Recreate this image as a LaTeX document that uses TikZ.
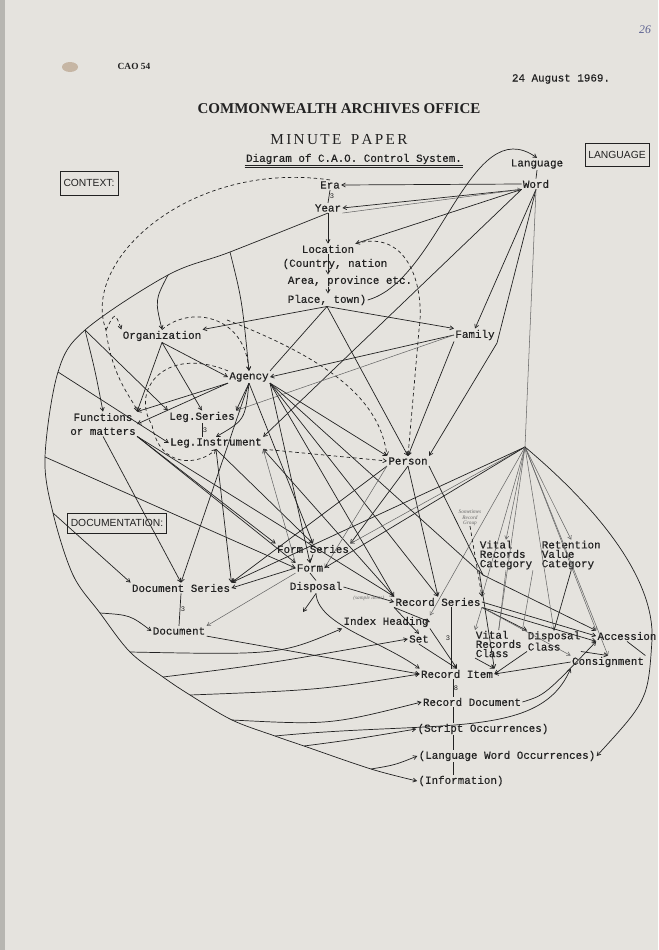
\documentclass[tikz,border=0pt]{standalone}
\usepackage{fontspec}
\setmainfont{Liberation Serif}
\setsansfont{Liberation Sans}
\setmonofont{Liberation Mono}
\newfontfamily\typed{Liberation Mono}[FakeBold=0.35]
\usetikzlibrary{arrows.meta,calc}

\definecolor{paper}{HTML}{E5E3DE}
\definecolor{ink}{HTML}{222222}
\definecolor{pencil}{HTML}{666666}
\definecolor{biro}{HTML}{5B6190}

\newcommand{\tw}{\fontsize{9.3}{8}\selectfont\typed}
\newcommand{\twat}[1]{\fontsize{9.3}{#1}\selectfont\typed}

\tikzset{
  item/.style={font=\tw,text=ink,inner sep=1pt},
  stack/.style={item,align=left,anchor=west,inner sep=0.5pt},
  heading/.style={draw=ink,line width=0.6pt,text=ink,inner sep=2pt,
    font=\fontsize{8.8}{9}\selectfont\sffamily},
  crow/.style={font=\fontsize{6}{6}\selectfont\ttfamily,text=ink,inner sep=0.5pt},
  jot/.style={font=\fontsize{4.5}{4.8}\selectfont\itshape,text=pencil,inner sep=0pt,align=center},
  link/.style={draw=ink,line width=0.6pt},
  faint/.style={draw=pencil,line width=0.45pt},
  dotlink/.style={draw=ink,line width=0.6pt,dash pattern=on 3pt off 2.5pt},
}

\begin{document}
\begin{tikzpicture}[x=0.03cm,y=-0.03cm,>={Straight Barb[length=3pt,width=3.5pt]}]
\fill[paper] (0,0) rectangle (658,950);
\useasboundingbox (0,0) rectangle (658,950);
\fill[paper!80!black] (0,0) rectangle (5,950);
\fill[brown!25!paper!90!black] (70,67) ellipse [x radius=8,y radius=5];

% header
\node[font=\fontsize{8}{8}\selectfont\bfseries,text=ink] (cao) at (134,66) {CAO 54};
\node[item] (date) at (561,79) {24 August 1969.};
\node[font=\fontsize{12.8}{13}\selectfont\bfseries,text=ink] (office) at (339,109) {COMMONWEALTH ARCHIVES OFFICE};
\node[font=\fontsize{13}{13}\selectfont,text=ink] (minute) at (339,140)
  {M\kern2pt I\kern2pt N\kern2pt U\kern2pt T\kern2pt E\kern8pt P\kern2pt A\kern2pt P\kern2pt E\kern2pt R};
\node[item] (title) at (354,159) {Diagram of C.A.O. Control System.};
\draw[ink,line width=0.6pt] (title.south west) -- (title.south east);
\draw[ink,line width=0.5pt] ([yshift=-1.2pt]title.south west) -- ([yshift=-1.2pt]title.south east);
\node[font=\fontsize{10}{10}\selectfont\itshape,text=biro] (folio) at (645,30) {26};

\node[heading,minimum width=1.74cm,minimum height=0.72cm] (context) at (89,183) {CONTEXT:};
\node[heading,minimum width=1.92cm,minimum height=0.68cm] (language) at (617,155) {LANGUAGE};
\node[heading,minimum width=2.97cm,minimum height=0.6cm] (documentation) at (117,523) {DOCUMENTATION:};

% context
\node[item] (era) at (330,185) {Era};
\node[item] (year) at (328,208) {Year};
\node[item] (loc) at (328,249) {Location};
\node[item] (country) at (335,264) {(Country, nation};
\node[item] (area) at (350,281) {Area, province etc.};
\node[item] (place) at (327,300) {Place, town)};
\node[item] (lang) at (537,164) {Language};
\node[item] (word) at (536,184) {Word};
\node[item] (family) at (475,335) {Family};
\node[item] (org) at (162,336) {Organization};
\node[item] (agency) at (249,377) {Agency};
\node[item,align=center,font={\twat{11.9pt}}] (func) at (103,424) {Functions\\or matters};
\node[item] (legser) at (202,417) {Leg.Series};
\node[item] (legins) at (216,443) {Leg.Instrument};
\node[item] (person) at (408,461) {Person};
\coordinate (hub) at (525,447);

% documentation
\node[item] (formser) at (313,549) {Form Series};
\node[item] (form) at (310,568) {Form};
\node[item] (disp) at (316,587) {Disposal};
\node[item] (docser) at (181,588) {Document Series};
\node[item] (doc) at (179,631) {Document};
\node[item] (idxhead) at (386,622) {Index Heading};
\node[item] (recser) at (438,602) {Record Series};
\node[item] (set) at (419,639) {Set};
\node[stack,font={\twat{8pt}}] (vrcat) at (479,555) {Vital\\Records\\Category};
\node[stack,font={\twat{8pt}}] (rvcat) at (541,555) {Retention\\Value\\Category};
\node[stack,font={\twat{5.3pt}}] (vrclass) at (475,644) {Vital\\Records\\Class};
\node[stack,font={\twat{7.6pt}}] (dispclass) at (527,641) {Disposal\\Class};
\node[item] (accession) at (627,636) {Accession};
\node[item] (consign) at (608,662) {Consignment};
\node[item] (recitem) at (457,674) {Record Item};
\node[item] (recdoc) at (472,702) {Record Document};
\node[item] (script) at (483,729) {(Script Occurrences)};
\node[item] (lwocc) at (507,756) {(Language Word Occurrences)};
\node[item] (info) at (461,781) {(Information)};
\node[jot] (group) at (470,518) {Sometimes\\Record\\Group};

% outer sweep from Year
\coordinate (ea) at (230,252);
\coordinate (eb) at (168,275);
\coordinate (ec) at (85,330);
\coordinate (ed) at (58,372);
\coordinate (ee) at (45,457);
\coordinate (ef) at (53,513);
\coordinate (eg) at (73,575);
\coordinate (eh) at (100,613);
\coordinate (ei) at (130,652);
\coordinate (ej) at (163,677);
\coordinate (ek) at (190,695);
\coordinate (el) at (232,720);
\coordinate (em) at (275,736);
\coordinate (en) at (304,746);
\coordinate (eo) at (371,769);
\draw[link,->] plot[smooth,tension=0.55] coordinates {(year.south) (ea) (eb) (ec) (ed) (ee) (ef) (eg) (eh) (ei) (ej) (ek) (el) (em) (en) (eo) (info.west)};

\draw[link,->] (ea) .. controls (242,300) .. (agency.north);
\draw[link,->] (eb) .. controls (155,300) .. (org.north);
\draw[link,->] (ec) -- (legser.north west);
\draw[link,->] (ec) .. controls (95,370) .. (func.north);
\draw[link,->] (ed) -- (legins.west);
\draw[link,->] (ee) -- (form.west);
\draw[link,->] (ef) -- (docser.north west);
\draw[link,->] (eh) .. controls (130,615) .. (doc.west);
\draw[link,->] (ei) .. controls (280,655) .. (idxhead.south west);
\draw[link,->] (ej) .. controls (260,665) .. (set.west);
\draw[link,->] (ek) .. controls (320,690) .. (recitem.west);
\draw[link,->] (el) .. controls (330,725) .. (recdoc.west);
\draw[link,->] (en) .. controls (350,740) .. (script.west);
\draw[link,->] (eo) .. controls (395,765) .. (lwocc.west);
\draw[link,->] (em) .. controls (440,720) and (540,740) .. (consign.south west);

% time, place, language
\coordinate (sa) at (328,0);
\coordinate (wbend) at (497,343);
\draw[link] (era.south) -- (year.north) node[crow,midway,right] (eracrow) {3};
\draw[link,->] (year.south) -- (loc.north);
\draw[link,->] (loc.south -| sa) -- (area.north -| sa);
\draw[link,->] (area.south -| sa) -- (place.north -| sa);
\draw[link,->] (word.west) -- (era.east);
\draw[link,->] (word.south west) -- (year.east);
\draw[faint,->] (year.south east) -- (word.south west);
\draw[link,->] (word.south west) -- (loc.north east);
\draw[link] (lang.south) -- (word.north);
\draw[link,->] (place.east) .. controls (440,280) and (470,110) .. (lang.north);
\draw[link,->] (place.south) -- (org.north east);
\draw[link,->] (place.south) -- (family.north west);
\draw[link] (place.south) -- (agency.north east);
\draw[link,->] (place.south) -- (person.north);
\draw[link,->] (word.south) -- (family.north);
\draw[link,->] (word.south) -- (wbend) -- (person.north east);
\draw[link,->] (family.south west) -- (person.north);
\draw[link,->] (word.south west) -- (legins.north east);
\draw[faint] (word.south) -- (hub);
\draw[link,->] (family.west) -- (agency.east);
\draw[faint,->] (family.west) -- (legser.north east);

% organization and agency
\coordinate (abend) at (483,575);
\draw[link,->] (org.south) -- (agency.west);
\draw[link,->] (org.south) -- (func.north east);
\draw[link,->] (org.south) -- (legser.north);
\draw[link,->] (agency.south west) -- (func.north east);
\draw[link,->] (agency.south west) -- (func.east);
\draw[link,->] (agency.south) -- (legser.north east);
\draw[link,->] (agency.south) .. controls (245,420) .. (legins.north);
\draw[link,->] (agency.south east) -- (person.north west);
\draw[link,->] (agency.south) -- (docser.north);
\draw[link,->] (agency.south) -- (formser.north);
\draw[link,->] (agency.south east) -- (form.north);
\draw[link,->] (agency.south east) -- (recser.north west);
\draw[link,->] (agency.south east) -- (recser.north);
\draw[link,->] (agency.south east) -- (abend) -- (accession.north west);
\draw[link] (legser.south) -- (legser.south |- legins.north) node[crow,midway,right] (legcrow) {3};

% functions, instruments, person
\draw[link,->] (func.south) -- (docser.north);
\draw[link,->] (func.south east) -- (formser.north west);
\draw[link,->] (func.south east) -- (form.north west);
\draw[link,->] (func.south east) -- (recser.north west);
\draw[link,->] (legins.south) -- (docser.north east);
\draw[link,->] (legins.south) -- (formser.north);
\draw[link,->] (recser.north west) -- (legins.south east);
\draw[faint,->] (form.north west) -- (legins.south east);
\draw[link,->] (person.south) -- (formser.north east);
\draw[link,->] (person.south west) -- (docser.north east);
\draw[link,->] (person.south) -- (recser.north);
\draw[link] (person.south east) -- (abend);
\draw[faint,->] (person.south west) -- (form.east);

% fan from the language line
\draw[faint,->] (hub) -- (formser.north east);
\draw[link,->] (hub) -- (form.east);
\draw[link,->] (hub) -- (docser.north east);
\draw[faint,->] (hub) -- (idxhead.north east);
\draw[faint,->] (hub) -- (recser.north east);
\draw[faint,->] (hub) -- (vrcat.north);
\draw[faint,->] (hub) -- (rvcat.north);
\draw[faint] (hub) -- (vrclass.north);
\draw[faint,->] (hub) -- (dispclass.north);
\draw[faint,->] (hub) -- (accession.north west);
\draw[faint,->] (hub) -- (consign.north);
\coordinate (hbend) at (652,640);
\draw[link,->] (hub) .. controls (600,510) and (655,580) .. (hbend) .. controls (648,700) .. (lwocc.east);

% documents and records
\coordinate (dtick) at (303,612);
\draw[link] (formser.south) -- (form.north);
\draw[link] (form.south) -- (disp.north);
\draw[link,->] (disp.south) -- (dtick);
\draw[link,->] (disp.south) .. controls (318,625) and (380,640) .. (recitem.north west);
\draw[link,->] (disp.east) -- (recser.west) node[jot,midway,below=1pt] (sample) {(sample items)};
\draw[link,->] (form.west) -- (docser.east);
\draw[faint,->] (form.south west) -- (doc.north east);
\draw[link] (docser.south) -- (doc.north) node[crow,midway,right] (doccrow) {3};
\draw[link,->] (doc.south east) -- (recitem.west);

\coordinate (rs) at (451,0);
\draw[link,->] (recser.south west) -- (idxhead.east);
\draw[link,->] (recser.south west) -- (set.north);
\draw[link] (recser.south -| rs) -- (recitem.north -| rs) node[crow,midway,left] (sercrow) {3};
\draw[faint,->] (recser.south east) -- (vrclass.north west);
\draw[link,->] (recser.south east) -- (dispclass.north west);
\draw[link,->] (recser.east) -- (accession.west);
\draw[link,->] (recser.south east) -- (accession.south west);
\draw[faint,->] (recser.south east) -- (consign.north west);
\draw[link,->] (idxhead.south east) -- (recitem.north);
\draw[link,->] (set.south) -- (recitem.north);
\draw[faint] (vrcat.south) -- (vrclass.north);
\draw[faint] (vrcat.south east) -- (vrclass.north east);
\draw[link,->] (vrcat.south west) -- (recitem.north east);
\draw[link] (rvcat.south) -- (dispclass.north);
\draw[link,->] (vrclass.south west) -- (recitem.north east);
\draw[link,->] (dispclass.south west) -- (recitem.east);
\draw[link,->] (dispclass.south east) -- (consign.north);
\draw[link] (accession.south) -- (consign.north east);
\draw[link,->] (consign.west) -- (recitem.east);
\draw[link,->] (recdoc.east) .. controls (545,695) .. (accession.south west);

\coordinate (spine) at (453,0);
\draw[link] (recitem.south -| spine) -- (recdoc.north -| spine) node[crow,midway,right] (itemcrow) {8};
\draw[link] (recdoc.south -| spine) -- (script.north -| spine);
\draw[link] (script.south -| spine) -- (lwocc.north -| spine);
\draw[link] (lwocc.south -| spine) -- (info.north -| spine);

% dashed links
\coordinate (da) at (106,330);
\coordinate (db) at (227,320);
\coordinate (dc) at (152,425);
\coordinate (dd) at (419,330);
\draw[dotlink,->] (era.north) .. controls (190,160) and (80,260) .. (da) .. controls (112,380) and (135,402) .. (func.north east);
\draw[dotlink,->] (da) .. controls (115,312) .. (org.north west);
\draw[dotlink,->] (org.north) .. controls (190,305) and (245,315) .. (agency.north);
\draw[dotlink,->] (db) .. controls (330,360) and (380,400) .. (person.north west);
\draw[dotlink,->] (agency.north west) .. controls (165,345) and (130,390) .. (dc) .. controls (160,470) and (200,465) .. (legins.south);
\draw[dotlink,->] (legins.south east) -- (person.west);
\draw[dotlink,->] (loc.north east) .. controls (410,228) and (425,290) .. (dd) -- (person.north);
\draw[dotlink,->] (group.south) -- (recser.north east);
\end{tikzpicture}
\end{document}
